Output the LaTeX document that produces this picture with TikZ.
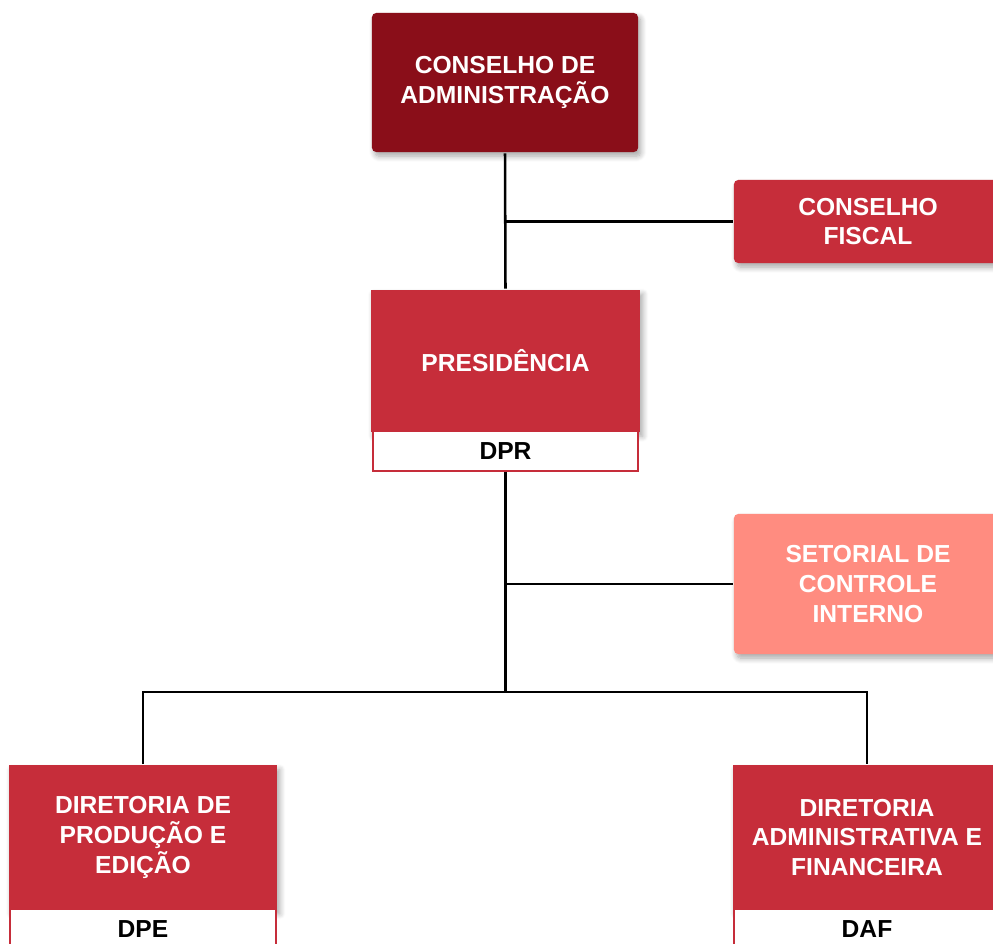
\documentclass[tikz,border=0pt]{standalone}
\usepackage{fontspec}
\setmainfont{Liberation Sans}
\usetikzlibrary{shadows.blur}
\definecolor{vinho}{HTML}{8A0E19}
\definecolor{vermelho}{HTML}{C62D3A}
\definecolor{salmao}{HTML}{FF8C80}
\begin{document}
\begin{tikzpicture}[x=0.025cm, y=-0.025cm, line width=1.8pt,
	every node/.style={font=\bfseries\fontsize{17.5}{21.3}\selectfont, align=center, inner sep=0pt},
	caixa/.style={fill=vermelho, text=white, minimum width=6.7cm, rounded corners=3pt,
		blur shadow={shadow blur steps=8, shadow xshift=2pt, shadow yshift=-3pt, shadow blur radius=4pt, shadow opacity=35}},
	sigla/.style={fill=white, draw=vermelho, line width=1.3pt, text=black, minimum width=6.63cm, minimum height=0.98cm}]
	\useasboundingbox (0,0) rectangle (993,943);
	\clip (0,0) rectangle (993,943);
	
	% 顶层
	\node[caixa, fill=vinho, minimum width=6.65cm, minimum height=3.475cm] (cadm) at (505,82.5) {CONSELHO DE\\ADMINISTRAÇÃO};
	\node[caixa, minimum height=2.075cm] (cfis) at (868,221.5) {CONSELHO\\FISCAL};
	
	% 主席
	\node[caixa, rounded corners=0pt, minimum width=6.725cm, minimum height=3.55cm] (pres) at (505.5,361) {PRESIDÊNCIA};
	\node[sigla] (dpr) at (505.5,451) {DPR};
	
	\node[caixa, fill=salmao, minimum height=3.5cm] (setor) at (868,584) {SETORIAL DE\\CONTROLE\\INTERNO};
	
	% 两个局
	\node[caixa, rounded corners=0pt, minimum height=3.6cm] (dpe) at (143,837.5) {DIRETORIA DE\\PRODUÇÃO E\\EDIÇÃO};
	\node[sigla] (dpesig) at (143,929) {DPE};
	\node[caixa, rounded corners=0pt, minimum height=3.6cm] (daf) at (867,837.5) {DIRETORIA\\ADMINISTRATIVA E\\FINANCEIRA};
	\node[sigla] (dafsig) at (867,929) {DAF};
	
	% 连线
	\coordinate (bus) at (505.5,692);
	\draw (cadm.south) -- (pres.north);
	\draw (cfis.west) -- (cadm.south |- cfis.west);
	\draw (dpr.south) -- (bus);
	\draw (setor.west) -- (dpr.south |- setor.west);
	\draw (dpe.north) |- (bus) -| (daf.north);
\end{tikzpicture}
\end{document}
